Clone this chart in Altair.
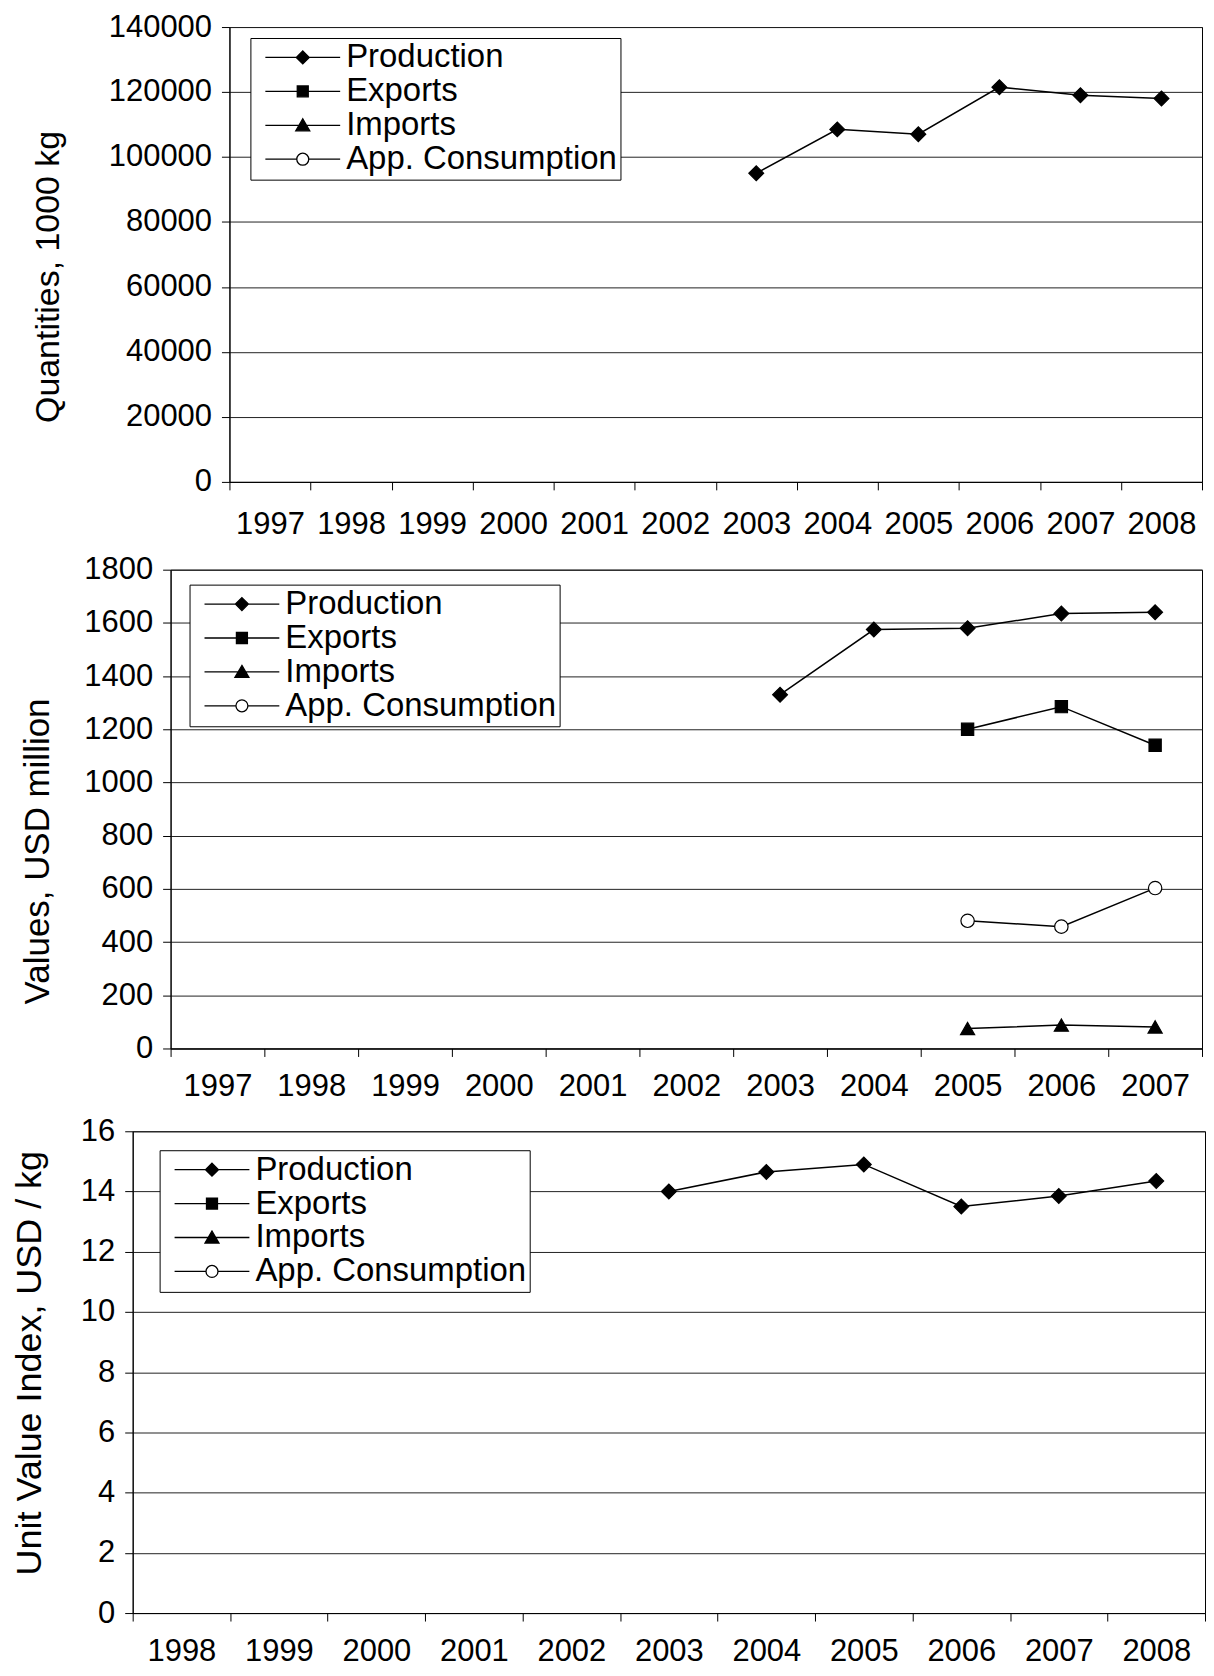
import altair as alt
import pandas as pd

FONT = "Liberation Sans"

series_names = ["Production", "Exports", "Imports", "App. Consumption"]

# Panel 1: Quantities, 1000 kg
years1 = [str(y) for y in range(1997, 2009)]
p1_prod_years = ["2003", "2004", "2005", "2006", "2007", "2008"]
p1_production = [95000, 108500, 107000, 121500, 119000, 118000]
y1_ticks = [0, 20000, 40000, 60000, 80000, 100000, 120000, 140000]

# Panel 2: Values, USD million
years2 = [str(y) for y in range(1997, 2008)]
p2_prod_years = ["2003", "2004", "2005", "2006", "2007"]
p2_production = [1330, 1575, 1580, 1635, 1640]
p2_other_years = ["2005", "2006", "2007"]
p2_exports = [1200, 1285, 1140]
p2_imports = [75, 88, 81]
p2_app = [480, 458, 603]
y2_ticks = [0, 200, 400, 600, 800, 1000, 1200, 1400, 1600, 1800]

# Panel 3: Unit Value Index, USD / kg
years3 = [str(y) for y in range(1998, 2009)]
p3_prod_years = ["2003", "2004", "2005", "2006", "2007", "2008"]
p3_production = [14.0, 14.65, 14.9, 13.5, 13.85, 14.35]
y3_ticks = [0, 2, 4, 6, 8, 10, 12, 14, 16]

# marker styles
marker_shape = {"Production": "diamond", "Exports": "square",
                "Imports": "triangle-up", "App. Consumption": "circle"}
marker_size = {"Production": 220, "Exports": 150, "Imports": 200, "App. Consumption": 180}
marker_fill = {"Production": "black", "Exports": "black", "Imports": "black",
               "App. Consumption": "white"}

legend_paths = [
    "M-3.75,0L3.75,0M0,-0.65L0.65,0L0,0.65L-0.65,0Z",
    "M-3.75,0L3.75,0M-0.55,-0.55L0.55,-0.55L0.55,0.55L-0.55,0.55Z",
    "M-3.75,0L3.75,0M0,-0.65L0.7,0.55L-0.7,0.55Z",
    "M-3.75,0L-0.6,0M0.6,0L3.75,0M0.6,0C0.6,0.331,0.331,0.6,0,0.6"
    "C-0.331,0.6,-0.6,0.331,-0.6,0C-0.6,-0.331,-0.331,-0.6,0,-0.6"
    "C0.331,-0.6,0.6,-0.331,0.6,0Z",
]
legend_fills = ["black", "black", "black", "white"]
legend_strokes = ["black", "black", "black", "black"]


def make_df(pairs):
    rows = []
    for name, yrs, vals in pairs:
        for y, v in zip(yrs, vals):
            rows.append({"year": y, "series": name, "value": v})
    return pd.DataFrame(rows)


def panel(df, years, ydomain, yticks, ytitle, title_size, title_x, title_y, width, height,
          xlabel_pad, leg_x, leg_y):
    x_enc = alt.X("year:O", sort=years,
                  scale=alt.Scale(type="band", domain=years, paddingInner=0, paddingOuter=0),
                  axis=alt.Axis(title=None, tickBand="extent", tickSize=8, labelPadding=xlabel_pad,
                                labelAngle=0, labelFontSize=31, labelOverlap=False, grid=False,
                                domainColor="black", tickColor="black", labelColor="black",
                                labelFont=FONT))
    y_enc = alt.Y("value:Q", scale=alt.Scale(domain=ydomain, nice=False, zero=True),
                  axis=alt.Axis(values=yticks, format="d", tickSize=8, labelPadding=10,
                                labelFontSize=31, labelFont=FONT, labelColor="black",
                                title=ytitle, titleFontSize=title_size, titleFontWeight="normal",
                                titleFont=FONT, titleColor="black", titleX=title_x,
                                titleY=title_y, titleBaseline="top", titleAlign="center",
                                grid=True, gridColor="#222222", gridWidth=1,
                                domainColor="black", tickColor="black"))
    base = alt.Chart(df)
    layers = [base.mark_line(color="black", strokeWidth=1.5).encode(
        x=x_enc, y=y_enc, detail="series:N")]
    for name in series_names:
        if (df["series"] == name).any():
            layers.append(
                base.transform_filter(alt.datum.series == name).mark_point(
                    shape=marker_shape[name], filled=True, fill=marker_fill[name],
                    stroke="black", strokeWidth=1.2, size=marker_size[name], opacity=1
                ).encode(x=x_enc, y=y_enc)
            )
    leg = alt.Legend(title=None, orient="none", legendX=leg_x, legendY=leg_y,
                     labelFontSize=33, labelFont=FONT, labelColor="black", labelLimit=500,
                     symbolSize=400, symbolOffset=33, labelOffset=27, padding=3,
                     rowPadding=0, strokeColor="black", fillColor="white",
                     symbolStrokeColor="black", symbolStrokeWidth=1.3, cornerRadius=0)
    legend_layer = alt.Chart(pd.DataFrame({"series": series_names})).transform_filter(
        "false").mark_point(filled=True, strokeWidth=1.3, opacity=1).encode(
        shape=alt.Shape("series:N", scale=alt.Scale(domain=series_names, range=legend_paths),
                        legend=leg),
        fill=alt.Fill("series:N", scale=alt.Scale(domain=series_names, range=legend_fills),
                      legend=leg),
        stroke=alt.Stroke("series:N", scale=alt.Scale(domain=series_names, range=legend_strokes),
                          legend=leg),
    )
    layers.append(legend_layer)
    return alt.layer(*layers).properties(width=width, height=height)


def spacer(w):
    return alt.Chart(pd.DataFrame({"a": [0]})).transform_filter("false").mark_point(
        opacity=0).properties(width=w, height=10, view=alt.ViewBackground(stroke="transparent"))


def indep(ch):
    return ch.resolve_scale(shape="independent", fill="independent", stroke="independent"
                            ).resolve_legend(shape="independent", fill="independent",
                                             stroke="independent")


df1 = make_df([("Production", p1_prod_years, p1_production)])
df2 = make_df([("Production", p2_prod_years, p2_production),
               ("Exports", p2_other_years, p2_exports),
               ("Imports", p2_other_years, p2_imports),
               ("App. Consumption", p2_other_years, p2_app)])
df3 = make_df([("Production", p3_prod_years, p3_production)])

c1 = panel(df1, years1, [0, 140000], y1_ticks, "Quantities, 1000 kg", 34, -198, 250, 975, 456,
           20, 21, 11)
c2 = panel(df2, years2, [0, 1800], y2_ticks, "Values, USD million", 35, -150, 282, 1034, 480,
           15, 19, 15)
c3 = panel(df3, years3, [0, 16], y3_ticks, "Unit Value Index, USD / kg", 36, -120, 232, 1075, 483,
           16, 27, 19)

row1 = indep(alt.hconcat(spacer(21), c1, spacing=0))
row2 = indep(alt.hconcat(spacer(10), c2, spacing=0))
row3 = indep(alt.hconcat(spacer(1), c3, spacing=0))

chart = indep(alt.vconcat(row1, row2, row3, spacing=12)).properties(
    padding={"left": 0, "top": 0, "right": 0, "bottom": 0}
).configure(font=FONT).configure_view(stroke="black", strokeWidth=1)

chart.save("out.html", embed_options={"renderer": "svg", "actions": False})
